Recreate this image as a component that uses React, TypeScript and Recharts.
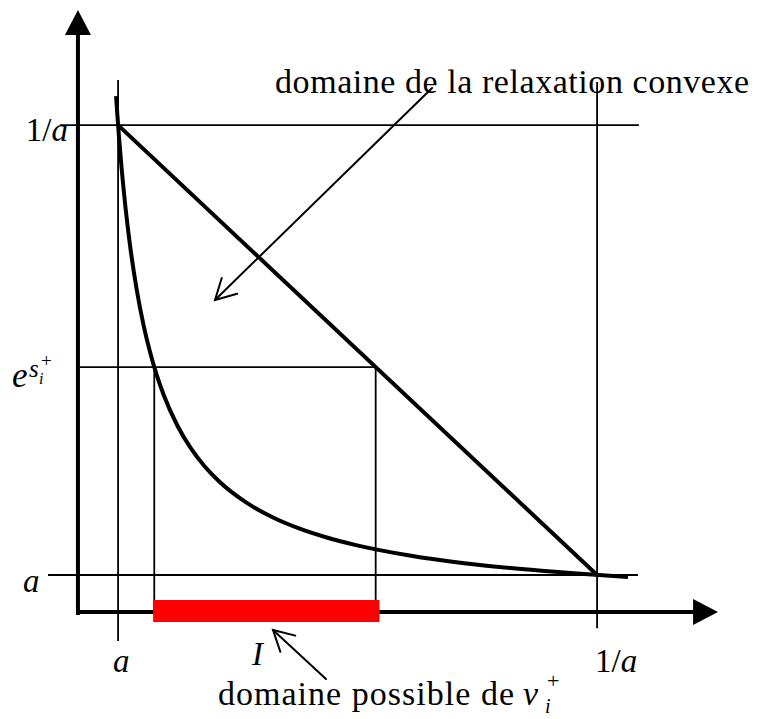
import { ComposedChart, Line, XAxis, YAxis, ReferenceLine, ReferenceArea, ReferenceDot } from 'recharts';

// Sketch of the convex relaxation of x*y = 1 on [a, 1/a].
// Everything is in data units; the domains are chosen so that the plot
// area covers the whole 759x719 picture.

const A = 0.265;
const INV_A = 3.774;
const E_S = 1.887; // e^{s_i^+}
const X_CURVE = 0.53; // where y = e^{s_i^+} meets the hyperbola
const X_LINE = 2.152; // where y = e^{s_i^+} meets the chord

// hyperbola y = 1/x
const CURVE_X = [0.25, 0.27, 0.29, 0.32, 0.35, 0.4, 0.45, 0.5, 0.55, 0.6, 0.7, 0.8, 0.9, 1.0, 1.2, 1.4, 1.6, 1.8, 2.0, 2.4, 2.8, 3.2, 3.6, 4.0];
const CURVE_Y = [4.0, 3.704, 3.448, 3.125, 2.857, 2.5, 2.222, 2.0, 1.818, 1.667, 1.429, 1.25, 1.111, 1.0, 0.833, 0.714, 0.625, 0.556, 0.5, 0.417, 0.357, 0.313, 0.278, 0.25];

// chord between (a, 1/a) and (1/a, a)
const CHORD_X = [A, INV_A];
const CHORD_Y = [INV_A, A];

// interval I on the x axis (red)
const INTERVAL_I = [0.522, 2.18];
const INTERVAL_THICK = [-0.102, 0.07];

const X_DOMAIN = [-0.6, 4.96];
const Y_DOMAIN = [-0.858, 4.75];

// axes: origin and arrow tips
const AXIS_X0 = -0.029;
const AXIS_Y0 = -0.024;
const AXIS_X_END = 4.66;
const AXIS_Y_END = 4.672;

// annotation arrows: [tail, tip]
const RELAX_ARROW = [{ x: 2.565, y: 4.064 }, { x: 0.975, y: 2.41 }];
const I_ARROW = [{ x: 1.788, y: -0.546 }, { x: 1.4, y: -0.164 }];

const curveData = CURVE_X.map((x, i) => ({ x, y: CURVE_Y[i] }));
const chordData = CHORD_X.map((x, i) => ({ x, y: CHORD_Y[i] }));

const SERIF = "'Liberation Serif', 'DejaVu Serif', serif";
const THIN = 1.8;
const THICK = 4;

function filledArrow(props: any) {
  const { x1, y1, x2, y2 } = props;
  const dx = x2 - x1;
  const dy = y2 - y1;
  const len = Math.hypot(dx, dy);
  const ux = dx / len;
  const uy = dy / len;
  const head = 25;
  const half = 13;
  const bx = x2 - ux * head;
  const by = y2 - uy * head;
  const pts = [
    `${x2},${y2}`,
    `${bx - uy * half},${by + ux * half}`,
    `${bx + uy * half},${by - ux * half}`,
  ].join(' ');
  return (
    <g>
      <line x1={x1} y1={y1} x2={bx + ux * 2} y2={by + uy * 2} stroke="#000" strokeWidth={4} />
      <polygon points={pts} fill="#000" />
    </g>
  );
}

function openArrow(props: any) {
  const { x1, y1, x2, y2 } = props;
  const ang = Math.atan2(y1 - y2, x1 - x2);
  const arm = 23;
  const spread = 0.5;
  const a1 = ang + spread;
  const a2 = ang - spread;
  return (
    <g stroke="#000" strokeWidth={2} fill="none" strokeLinecap="round">
      <line x1={x1} y1={y1} x2={x2} y2={y2} />
      <polyline
        points={`${x2 + Math.cos(a1) * arm},${y2 + Math.sin(a1) * arm} ${x2},${y2} ${x2 + Math.cos(a2) * arm},${y2 + Math.sin(a2) * arm}`}
      />
    </g>
  );
}

function textShape(content: JSX.Element) {
  return (props: any) => <g transform={`translate(${props.cx},${props.cy})`}>{content}</g>;
}

const txt = { fill: '#000', style: { fontFamily: SERIF } } as const;

const LABELS = [
  {
    x: 1.415,
    y: 4.025,
    node: (
      <text {...txt} fontSize={34} textLength={474} lengthAdjust="spacing">
        domaine de la relaxation convexe
      </text>
    ),
  },
  {
    x: 0.997,
    y: -0.749,
    node: (
      <g>
        <text {...txt} fontSize={34} textLength={296} lengthAdjust="spacing">
          domaine possible de
        </text>
        <text {...txt} x={305} fontSize={34} fontStyle="italic">
          ν
        </text>
        <text {...txt} x={329} y={-17} fontSize={22}>
          +
        </text>
        <text {...txt} x={327} y={8} fontSize={20} fontStyle="italic">
          i
        </text>
      </g>
    ),
  },
  {
    x: -0.102,
    y: 3.65,
    node: (
      <text {...txt} fontSize={33} textAnchor="end">
        1/<tspan fontStyle="italic">a</tspan>
      </text>
    ),
  },
  {
    x: -0.512,
    y: 1.731,
    node: (
      <g>
        <text {...txt} fontSize={35} fontStyle="italic">
          e
        </text>
        <text {...txt} x={17} y={-10} fontSize={25} fontStyle="italic">
          s
        </text>
        <text {...txt} x={29} y={-20} fontSize={19}>
          +
        </text>
        <text {...txt} x={27} y={-3} fontSize={16} fontStyle="italic">
          i
        </text>
      </g>
    ),
  },
  {
    x: -0.432,
    y: 0.132,
    node: (
      <text {...txt} fontSize={33} fontStyle="italic">
        a
      </text>
    ),
  },
  {
    x: 0.228,
    y: -0.492,
    node: (
      <text {...txt} fontSize={33} fontStyle="italic">
        a
      </text>
    ),
  },
  {
    x: 3.759,
    y: -0.492,
    node: (
      <text {...txt} fontSize={33}>
        1/<tspan fontStyle="italic">a</tspan>
      </text>
    ),
  },
  {
    x: 1.246,
    y: -0.437,
    node: (
      <text {...txt} fontSize={33} fontStyle="italic">
        I
      </text>
    ),
  },
];

export default function App() {
  return (
    <div style={{ position: 'absolute', left: 0, top: 0, width: 759, height: 719, background: '#fff' }}>
      <ComposedChart width={759} height={719} margin={{ top: 0, right: 0, bottom: 0, left: 0 }}>
        <XAxis dataKey="x" type="number" domain={X_DOMAIN} allowDataOverflow hide />
        <YAxis type="number" domain={Y_DOMAIN} allowDataOverflow hide />

        {/* thin guide lines */}
        <ReferenceLine segment={[{ x: A, y: -0.25 }, { x: A, y: 4.126 }]} stroke="#000" strokeWidth={THIN} ifOverflow="visible" />
        <ReferenceLine segment={[{ x: INV_A, y: -0.15 }, { x: INV_A, y: 4.11 }]} stroke="#000" strokeWidth={THIN} ifOverflow="visible" />
        <ReferenceLine segment={[{ x: -0.16, y: INV_A }, { x: 4.08, y: INV_A }]} stroke="#000" strokeWidth={THIN} ifOverflow="visible" />
        <ReferenceLine segment={[{ x: -0.248, y: A }, { x: 4.074, y: A }]} stroke="#000" strokeWidth={THIN} ifOverflow="visible" />
        <ReferenceLine segment={[{ x: AXIS_X0, y: E_S }, { x: X_LINE, y: E_S }]} stroke="#000" strokeWidth={THIN} ifOverflow="visible" />
        <ReferenceLine segment={[{ x: X_CURVE, y: AXIS_Y0 }, { x: X_CURVE, y: E_S }]} stroke="#000" strokeWidth={THIN} ifOverflow="visible" />
        <ReferenceLine segment={[{ x: X_LINE, y: AXIS_Y0 }, { x: X_LINE, y: E_S }]} stroke="#000" strokeWidth={THIN} ifOverflow="visible" />

        {/* annotation arrows */}
        <ReferenceLine segment={RELAX_ARROW} shape={openArrow} ifOverflow="visible" />
        <ReferenceLine segment={I_ARROW} shape={openArrow} ifOverflow="visible" />

        <Line data={curveData} dataKey="y" type="monotone" stroke="#000" strokeWidth={THICK} dot={false} activeDot={false} isAnimationActive={false} />
        <Line data={chordData} dataKey="y" type="linear" stroke="#000" strokeWidth={THICK} dot={false} activeDot={false} isAnimationActive={false} />

        {/* axes with arrow heads */}
        <ReferenceLine segment={[{ x: AXIS_X0, y: -0.047 }, { x: AXIS_X0, y: AXIS_Y_END }]} shape={filledArrow} ifOverflow="visible" />
        <ReferenceLine segment={[{ x: AXIS_X0 - 0.012, y: AXIS_Y0 }, { x: AXIS_X_END, y: AXIS_Y0 }]} shape={filledArrow} ifOverflow="visible" />

        <ReferenceArea
          x1={INTERVAL_I[0]}
          x2={INTERVAL_I[1]}
          y1={INTERVAL_THICK[0]}
          y2={INTERVAL_THICK[1]}
          fill="#ff0000"
          fillOpacity={1}
          stroke="none"
          ifOverflow="visible"
          zIndex={450}
        />

        {LABELS.map((l, i) => (
          <ReferenceDot key={i} x={l.x} y={l.y} r={0} shape={textShape(l.node)} ifOverflow="visible" zIndex={2000} />
        ))}
      </ComposedChart>
    </div>
  );
}
